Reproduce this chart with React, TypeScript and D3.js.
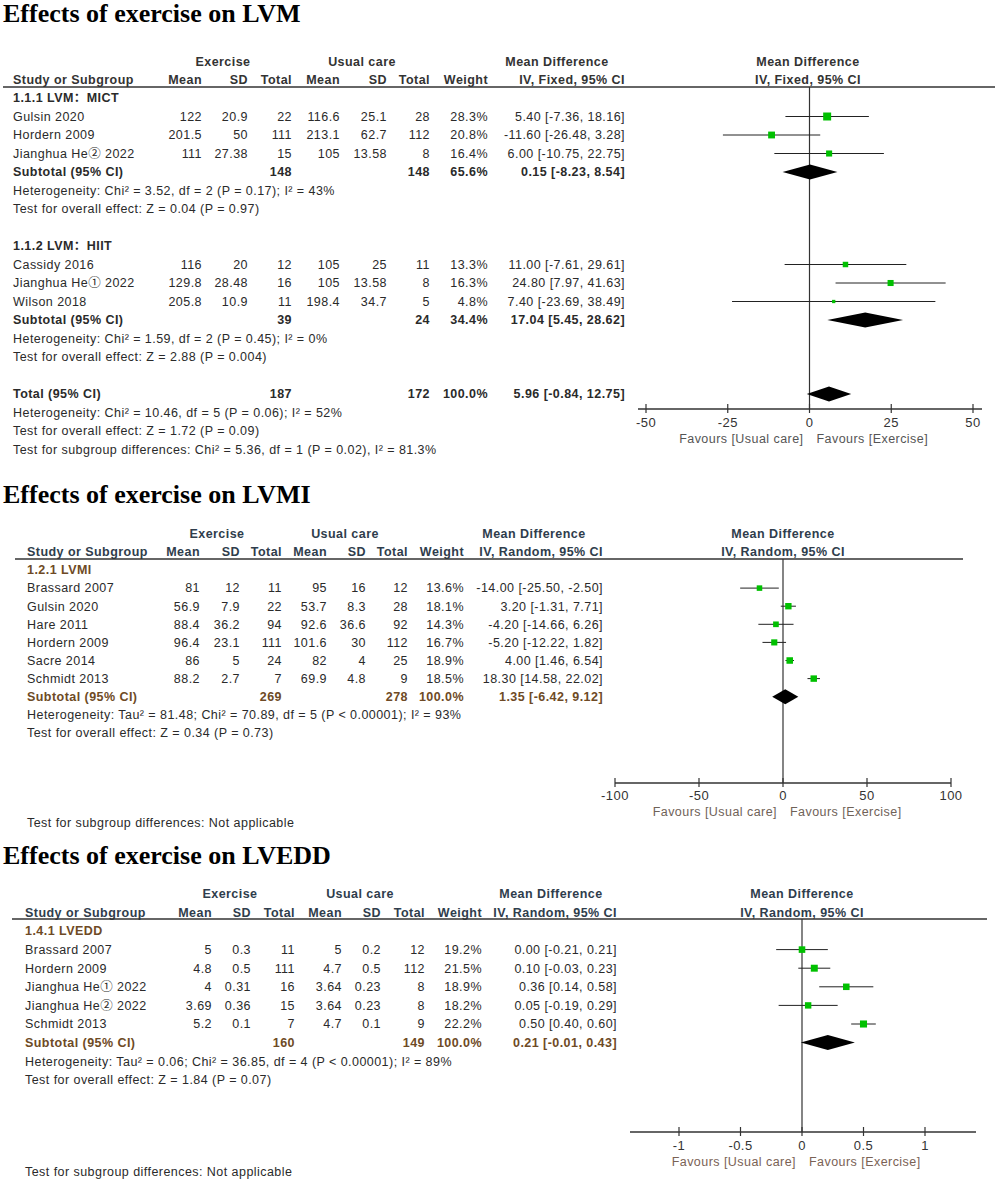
import React from "react";
import * as d3 from "d3";

// study, exercise mean, sd, total, usual care mean, sd, total, weight %, MD, lower, upper
type StudyRow = [string, number, number, number, number, number, number, number, number, number, number];
// label, exercise total, usual care total, weight %, MD, lower, upper
type SubRow = [string, number, number, number, number, number, number];

const lvmMict: StudyRow[] = [
  ["Gulsin 2020", 122, 20.9, 22, 116.6, 25.1, 28, 28.3, 5.4, -7.36, 18.16],
  ["Hordern 2009", 201.5, 50, 111, 213.1, 62.7, 112, 20.8, -11.6, -26.48, 3.28],
  ["Jianghua He② 2022", 111, 27.38, 15, 105, 13.58, 8, 16.4, 6.0, -10.75, 22.75],
];
const lvmMictSub: SubRow = ["Subtotal (95% CI)", 148, 148, 65.6, 0.15, -8.23, 8.54];
const lvmMictNotes = [
  "Heterogeneity: Chi² = 3.52, df = 2 (P = 0.17); I² = 43%",
  "Test for overall effect: Z = 0.04 (P = 0.97)",
];

const lvmHiit: StudyRow[] = [
  ["Cassidy 2016", 116, 20, 12, 105, 25, 11, 13.3, 11.0, -7.61, 29.61],
  ["Jianghua He① 2022", 129.8, 28.48, 16, 105, 13.58, 8, 16.3, 24.8, 7.97, 41.63],
  ["Wilson 2018", 205.8, 10.9, 11, 198.4, 34.7, 5, 4.8, 7.4, -23.69, 38.49],
];
const lvmHiitSub: SubRow = ["Subtotal (95% CI)", 39, 24, 34.4, 17.04, 5.45, 28.62];
const lvmHiitNotes = [
  "Heterogeneity: Chi² = 1.59, df = 2 (P = 0.45); I² = 0%",
  "Test for overall effect: Z = 2.88 (P = 0.004)",
];
const lvmTotal: SubRow = ["Total (95% CI)", 187, 172, 100.0, 5.96, -0.84, 12.75];
const lvmTotalNotes = [
  "Heterogeneity: Chi² = 10.46, df = 5 (P = 0.06); I² = 52%",
  "Test for overall effect: Z = 1.72 (P = 0.09)",
  "Test for subgroup differences: Chi² = 5.36, df = 1 (P = 0.02), I² = 81.3%",
];
const lvmTicks = [-50, -25, 0, 25, 50];

const lvmi: StudyRow[] = [
  ["Brassard 2007", 81, 12, 11, 95, 16, 12, 13.6, -14.0, -25.5, -2.5],
  ["Gulsin 2020", 56.9, 7.9, 22, 53.7, 8.3, 28, 18.1, 3.2, -1.31, 7.71],
  ["Hare 2011", 88.4, 36.2, 94, 92.6, 36.6, 92, 14.3, -4.2, -14.66, 6.26],
  ["Hordern 2009", 96.4, 23.1, 111, 101.6, 30, 112, 16.7, -5.2, -12.22, 1.82],
  ["Sacre 2014", 86, 5, 24, 82, 4, 25, 18.9, 4.0, 1.46, 6.54],
  ["Schmidt 2013", 88.2, 2.7, 7, 69.9, 4.8, 9, 18.5, 18.3, 14.58, 22.02],
];
const lvmiSub: SubRow = ["Subtotal (95% CI)", 269, 278, 100.0, 1.35, -6.42, 9.12];
const lvmiNotes = [
  "Heterogeneity: Tau² = 81.48; Chi² = 70.89, df = 5 (P < 0.00001); I² = 93%",
  "Test for overall effect: Z = 0.34 (P = 0.73)",
];
const lvmiTicks = [-100, -50, 0, 50, 100];

const lvedd: StudyRow[] = [
  ["Brassard 2007", 5, 0.3, 11, 5, 0.2, 12, 19.2, 0.0, -0.21, 0.21],
  ["Hordern 2009", 4.8, 0.5, 111, 4.7, 0.5, 112, 21.5, 0.1, -0.03, 0.23],
  ["Jianghua He① 2022", 4, 0.31, 16, 3.64, 0.23, 8, 18.9, 0.36, 0.14, 0.58],
  ["Jianghua He② 2022", 3.69, 0.36, 15, 3.64, 0.23, 8, 18.2, 0.05, -0.19, 0.29],
  ["Schmidt 2013", 5.2, 0.1, 7, 4.7, 0.1, 9, 22.2, 0.5, 0.4, 0.6],
];
const lveddSub: SubRow = ["Subtotal (95% CI)", 160, 149, 100.0, 0.21, -0.01, 0.43];
const lveddNotes = [
  "Heterogeneity: Tau² = 0.06; Chi² = 36.85, df = 4 (P < 0.00001); I² = 89%",
  "Test for overall effect: Z = 1.84 (P = 0.07)",
];
const lveddTicks = [-1, -0.5, 0, 0.5, 1];

const notApplicable = "Test for subgroup differences: Not applicable";

type Item =
  | { kind: "group"; label: string }
  | { kind: "study"; d: StudyRow }
  | { kind: "sub"; d: SubRow }
  | { kind: "note"; text: string }
  | { kind: "blank" };

const FONT = "'Liberation Sans', Arial, 'Noto Sans CJK SC', sans-serif";
const GREEN = "#00c000";

const fmtCI = (m: number, l: number, h: number) =>
  `${m.toFixed(2)} [${l.toFixed(2)}, ${h.toFixed(2)}]`;

interface PanelProps {
  title: string;
  titleY: number;
  method: string;
  items: Item[];
  h1: number;
  h2: number;
  lineY: number;
  lineX: [number, number];
  cols: number[]; // study x, then right edges: exMean, exSD, exN, ucMean, ucSD, ucN, weight, md
  exC: number;
  ucC: number;
  mdC: number;
  plotC: number;
  rowTop: number;
  rowStep: number;
  domain: [number, number];
  range: [number, number];
  axisX: [number, number];
  ticks: number[];
  axisY: number;
  tickY: number;
  favY: number;
  extraNote?: { y: number; text: string };
  textColor: string;
  headColor: string;
  boldColor: string;
  favColor: string;
}

function Panel(p: PanelProps) {
  const x = d3.scaleLinear().domain(p.domain).range(p.range);
  const size = d3.scaleSqrt().domain([0, 100]).range([0, 15]);
  const [sx, eM, eS, eN, uM, uS, uN, wt, md] = p.cols;
  const yOf = (i: number) => p.rowTop + i * p.rowStep;
  const x0 = x(0);

  return (
    <g fontFamily={FONT} fontSize={12.5} letterSpacing={0.45} fill={p.textColor}>
      <text
        x={3}
        y={p.titleY}
        fontFamily="'Liberation Serif', 'Times New Roman', serif"
        fontWeight="bold"
        fontSize={26}
        letterSpacing={0}
        fill="#000"
      >
        {p.title}
      </text>
      {/* header */}
      <g fontWeight="bold" fill={p.headColor}>
        <text x={p.exC} y={p.h1} dy="0.35em" textAnchor="middle">Exercise</text>
        <text x={p.ucC} y={p.h1} dy="0.35em" textAnchor="middle">Usual care</text>
        <text x={p.mdC} y={p.h1} dy="0.35em" textAnchor="middle">Mean Difference</text>
        <text x={p.plotC} y={p.h1} dy="0.35em" textAnchor="middle">Mean Difference</text>
        <text x={sx} y={p.h2} dy="0.35em">Study or Subgroup</text>
        {[["Mean", eM], ["SD", eS], ["Total", eN], ["Mean", uM], ["SD", uS], ["Total", uN], ["Weight", wt], [p.method, md]].map(
          ([t, cx], i) => (
            <text key={i} x={cx as number} y={p.h2} dy="0.35em" textAnchor="end">{t as string}</text>
          )
        )}
        <text x={p.plotC} y={p.h2} dy="0.35em" textAnchor="middle">{p.method}</text>
      </g>
      <line x1={p.lineX[0]} x2={p.lineX[1]} y1={p.lineY} y2={p.lineY} stroke="#333" strokeWidth={1.5} />
      {/* zero line */}
      <line x1={x0} x2={x0} y1={p.lineY} y2={p.axisY} stroke="#333" strokeWidth={1.2} />

      {p.items.map((it, i) => {
        const y = yOf(i);
        if (it.kind === "group")
          return (
            <text key={i} x={sx} y={y} dy="0.35em" fontWeight="bold" fill={p.boldColor}>{it.label}</text>
          );
        if (it.kind === "note")
          return <text key={i} x={sx} y={y} dy="0.35em">{it.text}</text>;
        if (it.kind === "blank") return null;
        if (it.kind === "study") {
          const d = it.d;
          const s = size(d[7]);
          const cells: [string, number][] = [
            [String(d[1]), eM], [String(d[2]), eS], [String(d[3]), eN],
            [String(d[4]), uM], [String(d[5]), uS], [String(d[6]), uN],
            [d[7].toFixed(1) + "%", wt], [fmtCI(d[8], d[9], d[10]), md],
          ];
          return (
            <g key={i}>
              <text x={sx} y={y} dy="0.35em">{d[0]}</text>
              {cells.map(([t, cx], j) => (
                <text key={j} x={cx} y={y} dy="0.35em" textAnchor="end">{t}</text>
              ))}
              <line x1={x(d[9])} x2={x(d[10])} y1={y} y2={y} stroke="#222" strokeWidth={1} />
              <rect x={x(d[8]) - s / 2} y={y - s / 2} width={s} height={s} fill={GREEN} />
            </g>
          );
        }
        const d = it.d;
        const cells: [string, number][] = [
          [String(d[1]), eN], [String(d[2]), uN], [d[3].toFixed(1) + "%", wt], [fmtCI(d[4], d[5], d[6]), md],
        ];
        const h = 7.5;
        return (
          <g key={i} fontWeight="bold" fill={p.boldColor}>
            <text x={sx} y={y} dy="0.35em">{d[0]}</text>
            {cells.map(([t, cx], j) => (
              <text key={j} x={cx} y={y} dy="0.35em" textAnchor="end">{t}</text>
            ))}
            <path
              d={`M${x(d[5])},${y} L${x(d[4])},${y - h} L${x(d[6])},${y} L${x(d[4])},${y + h} Z`}
              fill="#000"
            />
          </g>
        );
      })}

      {/* axis */}
      <line x1={p.axisX[0]} x2={p.axisX[1]} y1={p.axisY} y2={p.axisY} stroke="#333" strokeWidth={1.5} />
      {p.ticks.map((t) => (
        <g key={t}>
          <line x1={x(t)} x2={x(t)} y1={p.axisY - 5} y2={p.axisY + 4} stroke="#333" strokeWidth={1.2} />
          <text x={x(t)} y={p.tickY} dy="0.35em" textAnchor="middle" fill="#333" fontSize={13}>{String(t)}</text>
        </g>
      ))}
      <text x={x0 - 6} y={p.favY} dy="0.35em" textAnchor="end" fill={p.favColor}>Favours [Usual care]</text>
      <text x={x0 + 7} y={p.favY} dy="0.35em" fill={p.favColor}>Favours [Exercise]</text>
      {p.extraNote && (
        <text x={sx} y={p.extraNote.y} dy="0.35em">{p.extraNote.text}</text>
      )}
    </g>
  );
}

const studies = (rows: StudyRow[]): Item[] => rows.map((d) => ({ kind: "study", d }));
const notes = (n: string[]): Item[] => n.map((text) => ({ kind: "note", text }));

export default function App() {
  const lvmItems: Item[] = [
    { kind: "group", label: "1.1.1 LVM：MICT" },
    ...studies(lvmMict),
    { kind: "sub", d: lvmMictSub },
    ...notes(lvmMictNotes),
    { kind: "blank" },
    { kind: "group", label: "1.1.2 LVM：HIIT" },
    ...studies(lvmHiit),
    { kind: "sub", d: lvmHiitSub },
    ...notes(lvmHiitNotes),
    { kind: "blank" },
    { kind: "sub", d: lvmTotal },
    ...notes(lvmTotalNotes),
  ];
  const lvmiItems: Item[] = [
    { kind: "group", label: "1.2.1 LVMI" },
    ...studies(lvmi),
    { kind: "sub", d: lvmiSub },
    ...notes(lvmiNotes),
  ];
  const lveddItems: Item[] = [
    { kind: "group", label: "1.4.1 LVEDD" },
    ...studies(lvedd),
    { kind: "sub", d: lveddSub },
    ...notes(lveddNotes),
  ];

  return (
    <svg
      width={996}
      height={1179}
      style={{ position: "absolute", left: 0, top: 0, background: "#fff" }}
    >
      <rect width={996} height={1179} fill="#fff" />
      <Panel
        title="Effects of exercise on LVM"
        titleY={22}
        method="IV, Fixed, 95% CI"
        items={lvmItems}
        h1={62}
        h2={80}
        lineY={87}
        lineX={[3, 995]}
        cols={[13, 202, 248, 292, 340, 387, 430, 488, 625]}
        exC={223}
        ucC={362}
        mdC={557}
        plotC={808}
        rowTop={98}
        rowStep={18.5}
        domain={[-50, 50]}
        range={[646, 973]}
        axisX={[638, 982]}
        ticks={lvmTicks}
        axisY={409}
        tickY={422}
        favY={439}
        textColor="#2a2a2a"
        headColor="#333"
        boldColor="#2a2a2a"
        favColor="#555"
      />
      <Panel
        title="Effects of exercise on LVMI"
        titleY={503}
        method="IV, Random, 95% CI"
        items={lvmiItems}
        h1={534}
        h2={552}
        lineY={559}
        lineX={[15, 963]}
        cols={[27, 200, 240, 282, 327, 366, 408, 464, 603]}
        exC={217}
        ucC={345}
        mdC={534}
        plotC={783}
        rowTop={570}
        rowStep={18.1}
        domain={[-100, 100]}
        range={[615, 951]}
        axisX={[615, 951]}
        ticks={lvmiTicks}
        axisY={783}
        tickY={795}
        favY={812}
        extraNote={{ y: 823, text: notApplicable }}
        textColor="#2a2a2a"
        headColor="#2f3d4c"
        boldColor="#6e4a25"
        favColor="#6f6258"
      />
      <Panel
        title="Effects of exercise on LVEDD"
        titleY={864}
        method="IV, Random, 95% CI"
        items={lveddItems}
        h1={894}
        h2={913}
        lineY={919}
        lineX={[12, 987]}
        cols={[25, 212, 251, 295, 342, 381, 425, 482, 617]}
        exC={230}
        ucC={360}
        mdC={551}
        plotC={802}
        rowTop={931}
        rowStep={18.6}
        domain={[-1, 1]}
        range={[679, 925]}
        axisX={[630, 976]}
        ticks={lveddTicks}
        axisY={1132}
        tickY={1145}
        favY={1162}
        extraNote={{ y: 1172, text: notApplicable }}
        textColor="#2a2a2a"
        headColor="#2f3d4c"
        boldColor="#6e4a25"
        favColor="#7a6255"
      />
    </svg>
  );
}
